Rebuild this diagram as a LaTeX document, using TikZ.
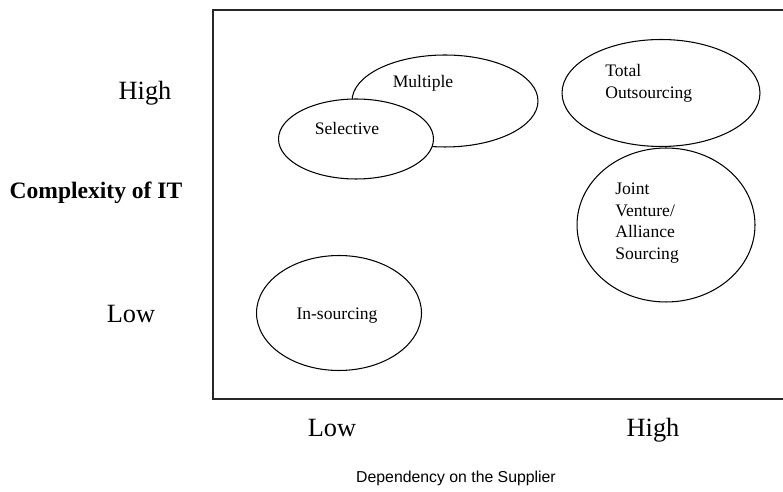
\documentclass[tikz,border=0pt]{standalone}
\usepackage{fontspec}
\setmainfont{Liberation Serif}
\newfontfamily\supfont{Liberation Sans}
\usetikzlibrary{shapes.geometric}

\begin{document}
\begin{tikzpicture}[x=0.02cm,y=-0.02cm,
 oval/.style={draw,ellipse,line width=0.6pt,fill=white,inner sep=0pt},
 txt/.style={font=\fontsize{10}{12.4}\selectfont,align=left,inner sep=0pt},
 level/.style={font=\fontsize{15}{18}\selectfont,inner sep=0pt}]
\useasboundingbox (0,0) rectangle (783,492);
% matrix frame
\draw[line width=0.8pt,black!85] (213,10) rectangle (790,399);
% sourcing options
\node[oval,minimum width=3.72cm,minimum height=1.84cm] (multiple) at (445,101) {};
\node[oval,minimum width=3.1cm,minimum height=1.6cm] (selective) at (356,139) {};
\node[oval,minimum width=3.96cm,minimum height=2.14cm] (total) at (661,93) {};
\node[oval,minimum width=3.56cm,minimum height=3.08cm] (joint) at (666,225) {};
\node[oval,minimum width=3.3cm,minimum height=2.3cm] (insourcing) at (339,313) {};
\node[txt] (multiplelbl) at (423,83) {Multiple};
\node[txt] (selectivelbl) at (347,128) {Selective};
\node[txt,anchor=west] (totallbl) at (605,83) {Total\\Outsourcing};
\node[txt,anchor=west] (jointlbl) at (615,223) {Joint\\Venture/\\Alliance\\Sourcing};
\node[txt] (insourcinglbl) at (337,316) {In-sourcing};
% axes
\node[level] (yhigh) at (145,93) {High};
\node[font=\fontsize{13.4}{16}\selectfont\bfseries,inner sep=0pt] (ytitle) at (96,193) {Complexity of IT};
\node[level] (ylow) at (131,314) {Low};
\node[level] (xlow) at (332,428) {Low};
\node[level] (xhigh) at (653,430) {High};
\node[font=\fontsize{9}{11}\supfont,inner sep=0pt] (xtitle) at (456,478) {Dependency on the Supplier};
\end{tikzpicture}
\end{document}
